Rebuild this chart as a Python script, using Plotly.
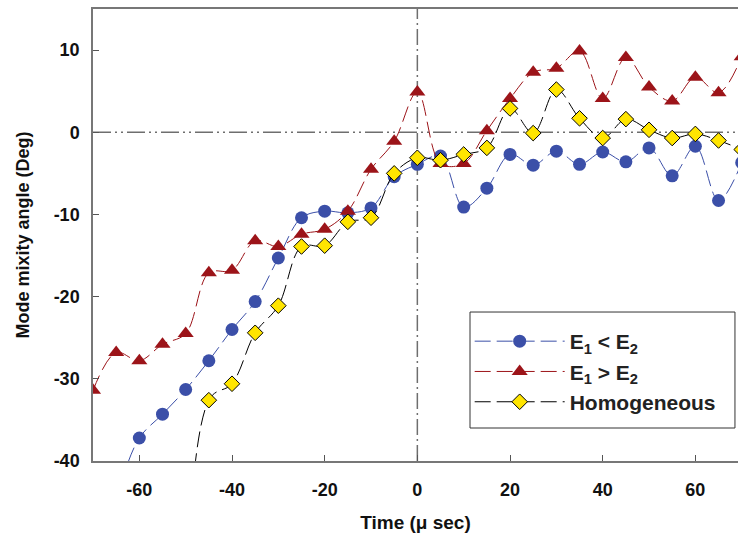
import plotly.graph_objects as go

# Time samples (microseconds)
time_us = [-70, -65, -60, -55, -50, -45, -40, -35, -30, -25, -20, -15, -10, -5,
           0, 5, 10, 15, 20, 25, 30, 35, 40, 45, 50, 55, 60, 65, 70]

# Mode mixity angle (degrees) for each configuration
e1_lt_e2 = [-50.0, -44.0, -37.2, -34.3, -31.3, -27.8, -24.0, -20.6, -15.3, -10.4, -9.6, -9.8, -9.2, -5.4,
            -3.9, -2.9, -9.1, -6.8, -2.7, -4.0, -2.3, -3.9, -2.4, -3.6, -1.9, -5.3, -1.7, -8.3, -3.7]
e1_gt_e2 = [-31.4, -26.8, -27.8, -25.8, -24.5, -17.1, -16.8, -13.2, -13.9, -12.4, -11.8, -9.6, -4.5, -1.1,
            4.9, -3.8, -3.8, 0.2, 4.1, 7.3, 7.8, 9.9, 4.1, 9.1, 5.5, 3.8, 6.7, 4.8, 9.2]
homog_t = time_us[4:]
homogeneous = [-140.0, -32.6, -30.6, -24.4, -21.1, -13.9, -13.8, -10.9, -10.4, -5.0,
               -3.1, -3.4, -2.7, -1.9, 2.9, -0.1, 5.2, 1.7, -0.7, 1.6, 0.3, -0.7, -0.2, -1.0, -2.1]

x_ticks = [-60, -40, -20, 0, 20, 40, 60]
x_tick_text = ["-60", "-40", "-20", "0", "20", "40", "60"]
y_ticks = [-40, -30, -20, -10, 0, 10]
y_tick_text = ["-40", "-30", "-20", "-10", "0", "10"]

BLUE = "#3B4FA8"
RED = "#9C1419"
YELLOW = "#FFE500"
FONT = "Liberation Sans, Arial, sans-serif"
DASH = "16px,6px"

fig = go.Figure()

fig.add_trace(go.Scatter(
    x=time_us, y=e1_lt_e2, mode="lines+markers", name="E<sub>1</sub> < E<sub>2</sub>",
    line=dict(color=BLUE, width=1, dash=DASH, shape="spline", smoothing=1),
    marker=dict(symbol="circle", size=13, color=BLUE),
))
fig.add_trace(go.Scatter(
    x=time_us, y=e1_gt_e2, mode="lines+markers", name="E<sub>1</sub> > E<sub>2</sub>",
    line=dict(color=RED, width=1, dash=DASH, shape="spline", smoothing=1),
    marker=dict(symbol="triangle-up", size=14, color=RED),
))
fig.add_trace(go.Scatter(
    x=homog_t, y=homogeneous, mode="lines+markers", name="Homogeneous",
    line=dict(color="black", width=1, dash=DASH, shape="spline", smoothing=1),
    marker=dict(symbol="diamond", size=12, color=YELLOW, line=dict(color="black", width=1)),
))

# Reference lines at zero angle and zero time
fig.add_shape(type="line", xref="paper", yref="y", x0=0, x1=1, y0=0, y1=0, layer="below",
              line=dict(color="#6E6E6E", width=1.5, dash="18px,4px,2px,4px,2px,4px"))
fig.add_shape(type="line", xref="x", yref="paper", x0=0, x1=0, y0=0, y1=1, layer="below",
              line=dict(color="#6E6E6E", width=1.5, dash="16px,4px,2px,4px"))

# Legend frame, drawn with a little more padding than the legend's own border
fig.add_shape(type="rect", xref="paper", yref="paper", x0=0.5845, x1=0.9953, y0=0.073, y1=0.3296,
              layer="above", fillcolor="white", line=dict(color="#333333", width=1))

fig.update_layout(
    width=738, height=542,
    margin=dict(l=93, r=0, t=9, b=81),
    paper_bgcolor="white", plot_bgcolor="white",
    font=dict(family=FONT, color="black"),
    showlegend=True,
    legend=dict(
        x=0.584, y=0.3097, xanchor="left", yanchor="top",
        bgcolor="rgba(0,0,0,0)", borderwidth=0,
        font=dict(family=FONT, size=21, color="#222222", weight="bold"),
        itemwidth=90, tracegroupgap=0,
    ),
    xaxis=dict(
        range=[-70, 69.2], tickvals=x_ticks, ticktext=x_tick_text,
        ticks="inside", ticklen=6, tickcolor="#555555", ticklabelstandoff=12,
        showline=True, linecolor="#777777", linewidth=1.5, mirror=True,
        showgrid=False, zeroline=False,
        tickfont=dict(family=FONT, size=18, color="#111111", weight="bold"),
        title=dict(text="Time (μ sec)", font=dict(family=FONT, size=19, color="#111111", weight="bold"), standoff=16),
    ),
    yaxis=dict(
        range=[-40, 15], tickvals=y_ticks, ticktext=y_tick_text,
        ticks="inside", ticklen=6, tickcolor="#555555", ticklabelstandoff=8,
        showline=True, linecolor="#777777", linewidth=1.5, mirror=False,
        showgrid=False, zeroline=False,
        tickfont=dict(family=FONT, size=18, color="#111111", weight="bold"),
        title=dict(text="Mode mixity angle (Deg)", font=dict(family=FONT, size=18, color="#111111", weight="bold"), standoff=19),
    ),
)

fig.write_html("out.html")
